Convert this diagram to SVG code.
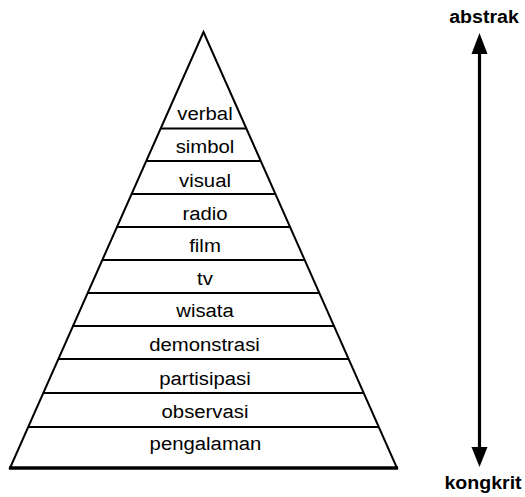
<svg xmlns="http://www.w3.org/2000/svg" width="525" height="497" viewBox="0 0 525 497">
<style>
.lbl{font-family:"Liberation Sans",Arial,sans-serif;font-size:19px;fill:#000;text-anchor:middle}
.end{font-family:"Liberation Sans",Arial,sans-serif;font-size:17.5px;font-weight:bold;fill:#000;text-anchor:middle}
.ln{stroke:#000;stroke-width:2;fill:none}
</style>
<rect width="525" height="497" fill="#fff"/>
<g id="pyramid">
<polygon points="203.5,32 10,468 397,468" fill="#fff" stroke="#000" stroke-width="2" stroke-linejoin="miter"/>
<line x1="9" y1="468" x2="398" y2="468" stroke="#000" stroke-width="3.5"/>
</g>
<g id="connectors">
<line class="ln" x1="160.5" y1="128.5" x2="246.5" y2="128.5"/>
<line class="ln" x1="146" y1="161" x2="261" y2="161"/>
<line class="ln" x1="131" y1="194" x2="276" y2="194"/>
<line class="ln" x1="116" y1="227" x2="291" y2="227"/>
<line class="ln" x1="102" y1="260" x2="305" y2="260"/>
<line class="ln" x1="87" y1="293" x2="320" y2="293"/>
<line class="ln" x1="72" y1="326" x2="335" y2="326"/>
<line class="ln" x1="58" y1="359" x2="349" y2="359"/>
<line class="ln" x1="43" y1="393" x2="364" y2="393"/>
<line class="ln" x1="28" y1="427" x2="379" y2="427"/>
<line x1="479.5" y1="52" x2="479.5" y2="450" stroke="#000" stroke-width="3.2"/>
<polygon points="479.5,33 471.5,54 487.5,54" fill="#000"/>
<polygon points="479.5,467 471.5,447 487.5,447" fill="#000"/>
</g>
<g id="n-verbal"><text class="lbl" transform="translate(205,120) scale(1.07,1)">verbal</text></g>
<g id="n-simbol"><text class="lbl" transform="translate(205,153) scale(1.07,1)">simbol</text></g>
<g id="n-visual"><text class="lbl" transform="translate(205,186.5) scale(1.07,1)">visual</text></g>
<g id="n-radio"><text class="lbl" transform="translate(205,219.5) scale(1.07,1)">radio</text></g>
<g id="n-film"><text class="lbl" transform="translate(205,252) scale(1.07,1)">film</text></g>
<g id="n-tv"><text class="lbl" transform="translate(205,284.5) scale(1.07,1)">tv</text></g>
<g id="n-wisata"><text class="lbl" transform="translate(205,317) scale(1.07,1)">wisata</text></g>
<g id="n-demonstrasi"><text class="lbl" transform="translate(204.5,351) scale(1.07,1)">demonstrasi</text></g>
<g id="n-partisipasi"><text class="lbl" transform="translate(205,384.5) scale(1.07,1)">partisipasi</text></g>
<g id="n-observasi"><text class="lbl" transform="translate(205,418) scale(1.07,1)">observasi</text></g>
<g id="n-pengalaman"><text class="lbl" transform="translate(205.5,450) scale(1.07,1)">pengalaman</text></g>
<g id="n-abstrak"><text class="end" transform="translate(484,23) scale(1.12,1)">abstrak</text></g>
<g id="n-kongkrit"><text class="end" transform="translate(483,489) scale(1.12,1)">kongkrit</text></g>
</svg>
